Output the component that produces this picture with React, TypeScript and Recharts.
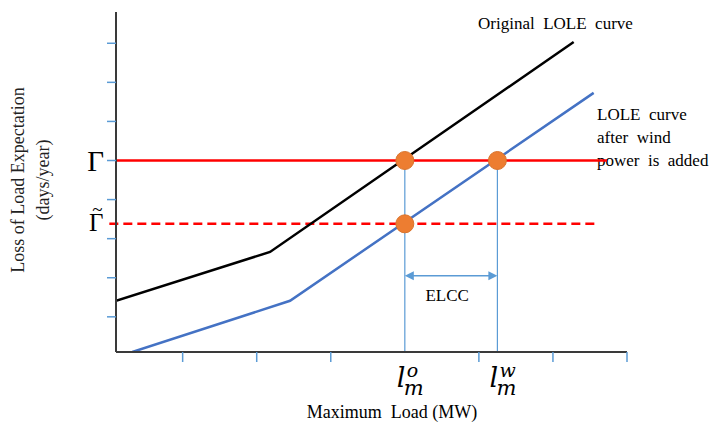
import { LineChart, Line, XAxis, YAxis, ReferenceLine, ReferenceDot } from 'recharts';

// LOLE curves (load in tick units, LOLE in tick units)
const originalCurve = [
  { load: -0.9, lole: 0.41 },
  { load: 1.18, lole: 1.66 },
  { load: 5.28, lole: 7.03 },
];
const windCurve = [
  { load: -0.68, lole: -0.9 },
  { load: 1.45, lole: 0.41 },
  { load: 5.55, lole: 5.73 },
];

const xTicks = [0, 1, 2, 4, 5, 6];
const yTicks = [0, 1, 2, 3, 4, 5, 6, 7];

const gamma = 4;
const gammaTilde = 2.38;
const gammaEnd = 5.73;
const gammaTildeStart = -0.99;
const gammaTildeEnd = 5.61;
const loadOriginal = 3;
const loadWind = 4.25;
const elccLevel = 1.05;

const serif = '"Liberation Serif", "Times New Roman", serif';
const mathFont = '"DejaVu Serif", serif';
const lightBlue = '#5B9BD5';

const loadLabel = (sup: string) => (props: any) => {
  const vb = props.viewBox;
  const x = vb.x;
  const y = vb.y + vb.height;
  return (
    <text x={x - 8} y={y + 35} fontFamily={mathFont} fontStyle="italic" fontSize={27} fill="#000">
      l
      <tspan x={x + 2} dy={-10} fontSize={19}>{sup}</tspan>
      <tspan x={x - 1} dy={18} fontSize={21}>m</tspan>
    </text>
  );
};

const ElccArrow = (props: any) => {
  const { x1, y1, x2 } = props;
  const a = Math.min(x1, x2);
  const b = Math.max(x1, x2);
  return (
    <g>
      <line x1={a + 6} y1={y1} x2={b - 6} y2={y1} stroke={lightBlue} strokeWidth={1.5} />
      <polygon points={`${a},${y1} ${a + 9},${y1 - 4.5} ${a + 9},${y1 + 4.5}`} fill={lightBlue} />
      <polygon points={`${b},${y1} ${b - 9},${y1 - 4.5} ${b - 9},${y1 + 4.5}`} fill={lightBlue} />
    </g>
  );
};

export default function App() {
  return (
    <div style={{ position: 'absolute', left: 0, top: 0, background: '#fff' }}>
      <LineChart width={715} height={422} margin={{ top: 12, right: 88, bottom: 69, left: 115 }}>
        <XAxis
          type="number"
          dataKey="load"
          domain={[-0.9, 6]}
          ticks={xTicks}
          allowDataOverflow
          height={1}
          axisLine={{ stroke: '#3a3a3a', strokeWidth: 2 }}
          tickLine={{ stroke: lightBlue, strokeWidth: 1.5 }}
          tickSize={10}
          tickFormatter={() => ''}
        />
        <YAxis
          type="number"
          dataKey="lole"
          domain={[-0.9, 7.8]}
          ticks={yTicks}
          allowDataOverflow
          width={1}
          axisLine={{ stroke: '#3a3a3a', strokeWidth: 2 }}
          tickLine={{ stroke: lightBlue, strokeWidth: 1.5 }}
          tickSize={9}
          tickFormatter={() => ''}
        />

        <ReferenceLine
          segment={[{ x: loadOriginal, y: gamma }, { x: loadOriginal, y: -0.9 }]}
          stroke={lightBlue}
          strokeWidth={1.2}
          label={loadLabel('o')}
        />
        <ReferenceLine
          segment={[{ x: loadWind, y: gamma }, { x: loadWind, y: -0.9 }]}
          stroke={lightBlue}
          strokeWidth={1.2}
          label={loadLabel('w')}
        />

        <ReferenceLine
          segment={[{ x: -0.9, y: gamma }, { x: gammaEnd, y: gamma }]}
          stroke="#FF0000"
          strokeWidth={2.5}
          label={(p: any) => (
            <text x={p.viewBox.x - 12} y={p.viewBox.y + 10} textAnchor="end" fontFamily={serif} fontSize={29}>
              Γ
            </text>
          )}
        />
        <ReferenceLine
          segment={[{ x: gammaTildeStart, y: gammaTilde }, { x: gammaTildeEnd, y: gammaTilde }]}
          ifOverflow="visible"
          stroke="#FF0000"
          strokeWidth={2.5}
          strokeDasharray="9 5"
          label={(p: any) => (
            <text x={p.viewBox.x - 13} y={p.viewBox.y + 7} fontFamily={serif} fontSize={25} textAnchor="middle">
              Γ
              <tspan x={p.viewBox.x - 12} dy={-15} fontSize={19}>~</tspan>
            </text>
          )}
        />

        <ReferenceLine
          segment={[{ x: loadOriginal, y: elccLevel }, { x: loadWind, y: elccLevel }]}
          shape={ElccArrow}
          label={(p: any) => (
            <text
              x={p.viewBox.x + p.viewBox.width / 2 - 4}
              y={p.viewBox.y + 25}
              textAnchor="middle"
              fontFamily={serif}
              fontSize={17}
            >
              ELCC
            </text>
          )}
        />

        <Line
          data={originalCurve}
          dataKey="lole"
          stroke="#000"
          strokeWidth={2.5}
          dot={false}
          isAnimationActive={false}
        />
        <Line
          data={windCurve}
          dataKey="lole"
          stroke="#4472C4"
          strokeWidth={2.5}
          dot={false}
          isAnimationActive={false}
        />

        <ReferenceDot x={loadOriginal} y={gamma} r={9} fill="#ED7D31" stroke="#D9732C" />
        <ReferenceDot x={loadWind} y={gamma} r={9} fill="#ED7D31" stroke="#D9732C" />
        <ReferenceDot x={loadOriginal} y={gammaTilde} r={9} fill="#ED7D31" stroke="#D9732C" />

        <text x={478} y={29} fontFamily={serif} fontSize={17} style={{ whiteSpace: 'pre' }}>
          Original  LOLE  curve
        </text>
        <g fontFamily={serif} fontSize={17}>
          <text x={597} y={120} style={{ whiteSpace: 'pre' }}>LOLE  curve</text>
          <text x={597} y={143} style={{ whiteSpace: 'pre' }}>after  wind</text>
          <text x={597} y={166} style={{ whiteSpace: 'pre' }}>power  is  added</text>
        </g>
        <g fontFamily={serif} fontSize={18} textAnchor="middle" fill="#222">
          <text x={18} y={180} dominantBaseline="central" transform="rotate(-90 18 180)">
            Loss of Load Expectation
          </text>
          <text x={43} y={180} dominantBaseline="central" transform="rotate(-90 43 180)">
            (days/year)
          </text>
        </g>
        <text x={392} y={418} textAnchor="middle" fontFamily={serif} fontSize={18} style={{ whiteSpace: 'pre' }}>
          Maximum  Load (MW)
        </text>
      </LineChart>
    </div>
  );
}
